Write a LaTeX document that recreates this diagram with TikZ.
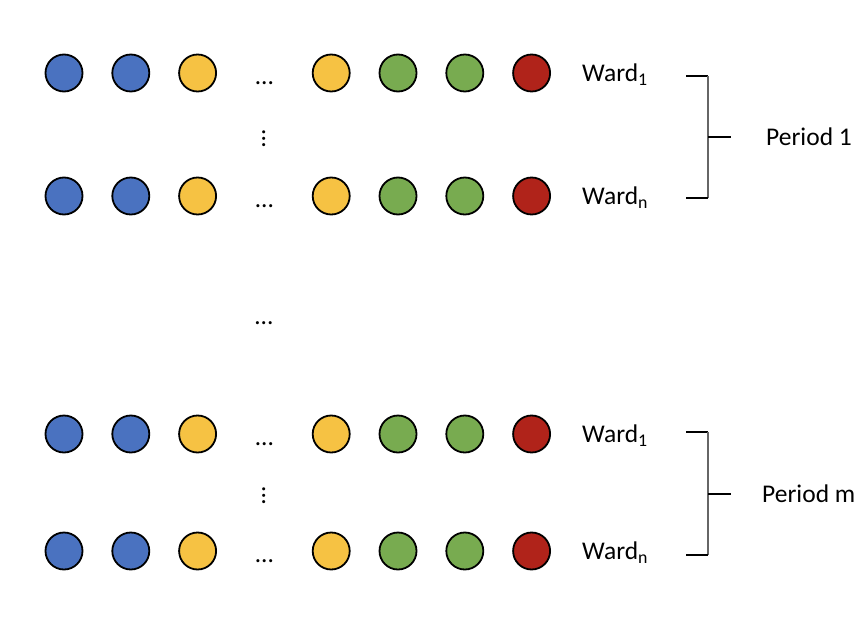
\documentclass[tikz,border=0pt]{standalone}
\usepackage{fontspec}
\setmainfont{Carlito}
\definecolor{wblue}{HTML}{4A72C0}
\definecolor{wyel}{HTML}{F6C243}
\definecolor{wgreen}{HTML}{78AB50}
\definecolor{wred}{HTML}{B0231A}
\tikzset{
  ball/.style={circle, draw=black, line width=1.8pt, minimum size=37pt, inner sep=0pt},
  lab/.style={inner sep=0pt, font=\fontsize{25.5}{30}\selectfont},
  brack/.style={line width=1.2pt}
}
\begin{document}
\begin{tikzpicture}[x=1pt, y=-1pt]
    \useasboundingbox (0,0) rectangle (858,634);
    \def\x{66.8}
    % rows of wards
    \foreach \r/\yy/\s in {0/73/1, 1/196/n, 2/434/1, 3/551/n} {
      \foreach \c/\col in {0/wblue, 1/wblue, 2/wyel, 4/wyel, 5/wgreen, 6/wgreen, 7/wred}
        \node[ball, fill=\col] (A\r_\c) at (64+\c*\x, \yy) {};
      \node[lab, anchor=base] (A\r_3) at (64+3*\x, \yy+11) {…};
      \node[lab, anchor=west] (W\r) at (582, \yy+2) {Ward\textsubscript{\s}};
    }
    \node[lab, anchor=base, rotate=90] (V0) at (265, 139) {…};
    \node[lab, anchor=base, rotate=90] (V1) at (265, 496) {…};
    \node[lab, anchor=base] (M) at (264, 324) {…};
    % brackets
    \foreach \k/\yt/\yb/\ym/\px/\t in {0/76/198/137/766/1, 1/432/555/494/762/m} {
      \coordinate (T\k_0) at (686, \yt);
      \coordinate (T\k_1) at (708, \yt);
      \coordinate (T\k_2) at (708, \yb);
      \coordinate (T\k_3) at (686, \yb);
      \coordinate (T\k_4) at (708, \ym);
      \coordinate (T\k_5) at (731, \ym);
      \node[lab, anchor=west] (P\k) at (\px, \ym) {Period \t};
      \draw[brack] (T\k_0) -- (T\k_1);
      \draw[brack, gray!80!black] (T\k_1) -- (T\k_2);
      \draw[brack] (T\k_2) -- (T\k_3);
      \draw[brack] (T\k_4) -- (T\k_5);
    }
  \end{tikzpicture}
\end{document}
